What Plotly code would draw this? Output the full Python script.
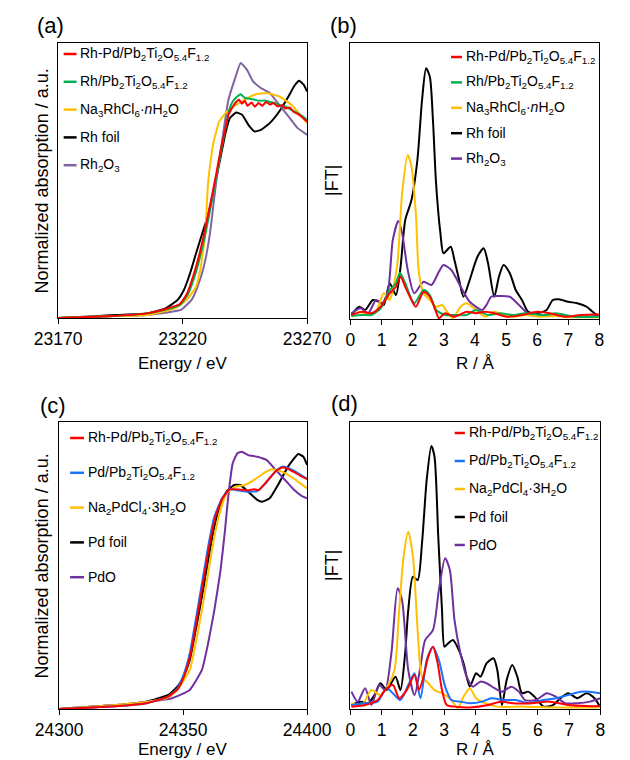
import plotly.graph_objects as go

W, H = 630, 760
FONT = "Arial, 'Liberation Sans', sans-serif"

# ---------------- data: (a) Rh K-edge XANES ----------------
a_rhpd_E = [23170, 23190, 23205, 23213, 23219, 23221.7, 23224.2, 23226.7, 23229.1, 23231.6, 23233.5,
            23235.3, 23237.2, 23238.4, 23239.5, 23240.5, 23241.5, 23242.7, 23243.8, 23245, 23246,
            23247.7, 23249, 23250.5, 23252, 23253.5, 23255, 23256.5, 23258, 23260, 23261.2, 23263,
            23264.5, 23266.2, 23268, 23270]
a_rhpd_v = [0, 0.008, 0.02, 0.04, 0.065, 0.11, 0.19, 0.29, 0.41, 0.55, 0.66, 0.77, 0.87, 0.93, 0.955,
            0.975, 0.99, 1.0, 0.982, 0.995, 0.972, 0.987, 0.968, 0.985, 0.972, 0.99, 0.978, 0.985,
            0.97, 0.975, 0.96, 0.965, 0.945, 0.935, 0.92, 0.9]
a_rh_E = [23170, 23190, 23205, 23213, 23219, 23222, 23224.5, 23227, 23229.4, 23231.8, 23233.6, 23235.4,
          23237.2, 23238.4, 23240, 23241.5, 23243.3, 23245, 23247, 23248.9, 23251, 23253, 23255,
          23257, 23259, 23261.2, 23263.5, 23266.2, 23268, 23270]
a_rh_v = [0, 0.008, 0.02, 0.038, 0.06, 0.105, 0.18, 0.28, 0.40, 0.54, 0.65, 0.76, 0.87, 0.94, 0.99,
          1.01, 1.025, 1.008, 1.005, 1.0, 0.995, 0.997, 0.99, 0.985, 0.975, 0.969, 0.955, 0.939,
          0.925, 0.908]
a_na_E = [23170, 23190, 23205.7, 23216.8, 23221.7, 23225.4, 23227.3, 23229.1, 23229.8, 23230.4,
          23232.2, 23234.7, 23237.8, 23242.7, 23248.9, 23253.8, 23258.8, 23263.7, 23270]
a_na_v = [0, 0.008, 0.014, 0.044, 0.083, 0.144, 0.235, 0.388, 0.541, 0.641, 0.794, 0.9, 0.946,
          0.985, 1.023, 1.031, 1.015, 0.977, 0.893]
a_foil_E = [23170, 23185, 23193.3, 23205.7, 23213.1, 23218, 23220.5, 23223, 23225.4, 23227.9,
            23230.4, 23232.8, 23235.3, 23237.2, 23239, 23241.5, 23243.9, 23246.4, 23248.9,
            23251.4, 23255, 23258.8, 23262.5, 23264.9, 23266.8, 23268.6, 23270]
a_foil_v = [0, 0.008, 0.014, 0.021, 0.044, 0.083, 0.128, 0.205, 0.297, 0.388, 0.48, 0.602, 0.74,
            0.847, 0.916, 0.942, 0.931, 0.885, 0.855, 0.862, 0.893, 0.946, 1.015, 1.064, 1.087,
            1.069, 1.038]
a_ox_E = [23170, 23190, 23205.7, 23215.6, 23219.3, 23223.6, 23226, 23228.5, 23231, 23232.6, 23234.3,
          23236.3, 23238.4, 23240.9, 23243.3, 23245.8, 23248.3, 23251.4, 23255, 23258.8, 23262.5,
          23266.2, 23270]
a_ox_v = [0, 0.008, 0.014, 0.029, 0.037, 0.083, 0.144, 0.235, 0.388, 0.541, 0.694, 0.847, 1.0,
          1.092, 1.168, 1.138, 1.084, 1.054, 1.031, 0.977, 0.924, 0.87, 0.839]

# ---------------- data: (b) Rh K-edge FT-EXAFS ----------------
b_rhpd_R = [0.03, 0.38, 0.67, 0.97, 1.26, 1.46, 1.61, 1.76, 1.96, 2.1, 2.35, 2.55, 2.75, 2.84, 3.04,
            3.34, 3.73, 4.03, 4.33, 4.62, 5.02, 5.51, 6.0, 6.4, 6.89, 7.39, 7.98]
b_rhpd_v = [0.016, 0.029, 0.023, 0.049, 0.103, 0.129, 0.169, 0.129, 0.076, 0.049, 0.109, 0.089,
            0.029, 0.003, 0.023, 0.009, 0.029, 0.023, 0.029, 0.023, 0.009, 0.016, 0.029, 0.023,
            0.009, 0.016, 0.019]
b_rh_R = [0.03, 0.38, 0.67, 0.97, 1.26, 1.46, 1.59, 1.76, 2.05, 2.35, 2.55, 2.75, 3.04, 3.34, 3.73,
          4.03, 4.42, 4.82, 5.21, 5.61, 6.2, 6.6, 7.19, 7.98]
b_rh_v = [0.012, 0.016, 0.016, 0.043, 0.116, 0.143, 0.185, 0.143, 0.063, 0.116, 0.096, 0.036,
          0.016, 0.016, 0.016, 0.036, 0.016, 0.023, 0.016, 0.023, 0.016, 0.023, 0.009, 0.009]
b_na_R = [0.03, 0.28, 0.57, 0.82, 1.07, 1.26, 1.36, 1.51, 1.66, 1.84, 1.96, 2.1, 2.2, 2.35, 2.55,
          2.75, 2.94, 3.14, 3.29, 3.54, 3.73, 4.03, 4.33, 4.62, 4.92, 5.21, 5.61, 6.1, 6.6, 7.09, 7.98]
b_na_v = [0.009, 0.029, 0.016, 0.029, 0.103, 0.076, 0.116, 0.223, 0.503, 0.656, 0.609, 0.423,
          0.183, 0.103, 0.076, 0.049, 0.056, 0.023, 0.003, 0.049, 0.063, 0.036, 0.009, 0.029,
          0.016, 0.009, 0.016, 0.009, 0.012, 0.007, 0.007]
b_foil_R = [0.03, 0.28, 0.47, 0.72, 0.92, 1.07, 1.26, 1.46, 1.61, 1.76, 1.96, 2.15, 2.3, 2.43, 2.55,
            2.65, 2.75, 2.89, 2.99, 3.22, 3.34, 3.49, 3.63, 3.83, 4.08, 4.28, 4.42, 4.62, 4.77,
            4.92, 5.12, 5.31, 5.51, 5.71, 6.0, 6.3, 6.5, 6.7, 6.99, 7.29, 7.59, 7.78, 7.98]
b_foil_v = [0.016, 0.049, 0.036, 0.076, 0.069, 0.056, 0.143, 0.096, 0.209, 0.396, 0.476, 0.636,
            0.876, 1.003, 0.969, 0.796, 0.543, 0.343, 0.263, 0.289, 0.236, 0.156, 0.089, 0.156,
            0.249, 0.283, 0.223, 0.089, 0.169, 0.216, 0.183, 0.116, 0.076, 0.029, 0.023, 0.036,
            0.076, 0.079, 0.069, 0.063, 0.049, 0.029, 0.009]
b_ox_R = [0.03, 0.33, 0.57, 0.82, 1.02, 1.21, 1.36, 1.54, 1.66, 1.84, 2.05, 2.35, 2.6, 2.84, 2.99,
          3.24, 3.54, 3.83, 4.23, 4.37, 4.52, 4.72, 5.12, 5.41, 5.71, 6.2, 6.8, 7.39, 7.98]
b_ox_v = [0.023, 0.043, 0.023, 0.076, 0.063, 0.116, 0.316, 0.392, 0.343, 0.196, 0.103, 0.149,
          0.136, 0.189, 0.216, 0.196, 0.129, 0.069, 0.036, 0.056, 0.089, 0.092, 0.089, 0.056,
          0.023, 0.016, 0.012, 0.009, 0.012]

# ---------------- data: (c) Pd K-edge XANES ----------------
c_rhpd_E = [24300, 24322.9, 24335.3, 24344, 24348.1, 24350.6, 24353.1, 24355.5, 24358, 24360.5,
            24363, 24365.9, 24368.8, 24372.5, 24376.2, 24378.5, 24380.5, 24383.6, 24387.4, 24389.9,
            24392, 24394.8, 24397.9, 24400]
c_rhpd_v = [0, 0.012, 0.025, 0.054, 0.09, 0.148, 0.242, 0.387, 0.546, 0.706, 0.836, 0.916, 0.955,
            0.955, 0.95, 0.956, 0.952, 0.988, 1.035, 1.05, 1.046, 1.03, 1.01, 1.0]
c_pd_E = [24300, 24322.9, 24335.3, 24344, 24347.7, 24350.2, 24352.7, 24355.1, 24357.6, 24360.1,
          24362.6, 24365.7, 24368.8, 24372.5, 24376.2, 24379.9, 24383.6, 24387.4, 24389.9, 24392,
          24394.8, 24397.9, 24400]
c_pd_v = [0, 0.012, 0.025, 0.054, 0.09, 0.148, 0.242, 0.387, 0.546, 0.706, 0.836, 0.916, 0.955,
          0.950, 0.945, 0.948, 0.985, 1.035, 1.054, 1.05, 1.035, 1.015, 1.0]
c_na_E = [24300, 24322.9, 24335.3, 24344, 24347.7, 24352.7, 24355.1, 24357.6, 24360.1, 24362.6,
          24365.1, 24367.5, 24371.2, 24374.9, 24378.6, 24382.4, 24386.1, 24389.8, 24393.6, 24397.3,
          24400]
c_na_v = [0, 0.017, 0.03, 0.05, 0.083, 0.17, 0.286, 0.43, 0.59, 0.749, 0.865, 0.938, 0.967, 0.974,
          0.996, 1.025, 1.042, 1.032, 1.01, 0.981, 0.959]
c_foil_E = [24300, 24322.9, 24335.3, 24344, 24347.7, 24350.2, 24352.7, 24355.1, 24357.6, 24360.1,
            24362.6, 24365.1, 24367.5, 24370.6, 24373.1, 24376.2, 24379.9, 24381.8, 24384.9,
            24388.6, 24392.3, 24396.4, 24398.5, 24400]
c_foil_v = [0, 0.017, 0.032, 0.061, 0.097, 0.141, 0.213, 0.343, 0.488, 0.648, 0.793, 0.894, 0.945,
            0.974, 0.974, 0.945, 0.909, 0.901, 0.916, 0.981, 1.054, 1.109, 1.097, 1.061]
c_ox_E = [24300, 24322.9, 24335.3, 24345.2, 24352.7, 24357.6, 24360.1, 24362.6, 24365.1, 24366.9,
          24368.2, 24370, 24371.9, 24373.7, 24376.2, 24379.9, 24383.6, 24387.4, 24391.1, 24394.8,
          24397.9, 24400]
c_ox_v = [0, 0.017, 0.032, 0.046, 0.083, 0.17, 0.286, 0.43, 0.604, 0.778, 0.923, 1.068, 1.112,
          1.119, 1.104, 1.097, 1.083, 1.039, 0.996, 0.952, 0.926, 0.916]

# ---------------- data: (d) Pd K-edge FT-EXAFS ----------------
d_rhpd_R = [0.03, 0.47, 0.87, 1.11, 1.36, 1.56, 1.8, 2.05, 2.19, 2.34, 2.49, 2.64, 2.79, 2.93, 3.08,
            3.33, 3.82, 4.41, 4.8, 5.2, 5.79, 6.38, 6.97, 7.56, 8.0]
d_rhpd_v = [0.009, 0.015, 0.034, 0.072, 0.091, 0.041, 0.072, 0.129, 0.072, 0.123, 0.199, 0.237,
            0.174, 0.072, 0.015, 0.009, 0.006, 0.015, 0.028, 0.022, 0.022, 0.028, 0.015, 0.011, 0.011]
d_pd_R = [0.03, 0.47, 0.87, 1.16, 1.41, 1.6, 1.85, 2.05, 2.24, 2.44, 2.64, 2.83, 3.03, 3.23, 3.52,
          3.82, 4.21, 4.51, 4.9, 5.3, 5.69, 6.18, 6.57, 6.97, 7.36, 7.66, 8.0]
d_pd_v = [0.015, 0.022, 0.028, 0.079, 0.053, 0.034, 0.091, 0.136, 0.041, 0.186, 0.237, 0.186,
          0.085, 0.034, 0.028, 0.022, 0.028, 0.041, 0.034, 0.034, 0.022, 0.034, 0.041, 0.053,
          0.066, 0.066, 0.06]
d_na_R = [0.03, 0.37, 0.67, 0.96, 1.21, 1.41, 1.56, 1.7, 1.85, 2.0, 2.15, 2.29, 2.49, 2.69, 2.93,
          3.23, 3.43, 3.62, 3.82, 4.02, 4.31, 4.7, 5.59, 6.57, 8.0]
d_na_v = [0.022, 0.015, 0.072, 0.053, 0.091, 0.148, 0.376, 0.579, 0.674, 0.579, 0.3, 0.123, 0.098,
          0.072, 0.06, 0.034, 0.003, 0.047, 0.079, 0.041, 0.022, 0.009, 0.009, 0.006, 0.006]
d_foil_R = [0.03, 0.32, 0.57, 0.77, 0.96, 1.16, 1.44, 1.6, 1.75, 1.85, 2.0, 2.15, 2.29, 2.44, 2.59,
            2.69, 2.81, 2.93, 3.01, 3.13, 3.28, 3.47, 3.62, 3.82, 4.02, 4.16, 4.36, 4.58, 4.7,
            4.85, 5.0, 5.18, 5.34, 5.49, 5.69, 5.89, 6.18, 6.48, 6.72, 6.97, 7.26, 7.56, 7.81, 8.0]
d_foil_v = [0.015, 0.028, 0.022, 0.053, 0.098, 0.072, 0.123, 0.072, 0.212, 0.376, 0.503, 0.49,
            0.63, 0.871, 1.0, 0.959, 0.655, 0.376, 0.237, 0.25, 0.262, 0.224, 0.174, 0.085, 0.136,
            0.123, 0.174, 0.193, 0.148, 0.015, 0.11, 0.167, 0.123, 0.06, 0.066, 0.047, 0.009,
            0.015, 0.041, 0.06, 0.041, 0.06, 0.041, 0.006]
d_ox_R = [0.03, 0.23, 0.47, 0.67, 0.92, 1.11, 1.31, 1.51, 1.65, 1.85, 2.05, 2.24, 2.39, 2.64, 2.83,
          3.03, 3.18, 3.33, 3.52, 3.72, 3.92, 4.16, 4.36, 4.61, 4.85, 5.15, 5.39, 5.59, 5.94, 6.28,
          6.57, 6.87, 7.26, 7.66, 8.0]
d_ox_v = [0.066, 0.028, 0.079, 0.015, 0.091, 0.072, 0.212, 0.459, 0.414, 0.148, 0.053, 0.161,
          0.262, 0.3, 0.452, 0.573, 0.529, 0.338, 0.212, 0.123, 0.085, 0.104, 0.098, 0.079, 0.066,
          0.085, 0.066, 0.034, 0.034, 0.06, 0.047, 0.022, 0.022, 0.028, 0.041]

# ---------------- labels ----------------
rh_names = ["Rh-Pd/Pb<sub>2</sub>Ti<sub>2</sub>O<sub>5.4</sub>F<sub>1.2</sub>",
            "Rh/Pb<sub>2</sub>Ti<sub>2</sub>O<sub>5.4</sub>F<sub>1.2</sub>",
            "Na<sub>3</sub>RhCl<sub>6</sub>·<i>n</i>H<sub>2</sub>O",
            "Rh foil",
            "Rh<sub>2</sub>O<sub>3</sub>"]
pd_names = ["Rh-Pd/Pb<sub>2</sub>Ti<sub>2</sub>O<sub>5.4</sub>F<sub>1.2</sub>",
            "Pd/Pb<sub>2</sub>Ti<sub>2</sub>O<sub>5.4</sub>F<sub>1.2</sub>",
            "Na<sub>2</sub>PdCl<sub>4</sub>·3H<sub>2</sub>O",
            "Pd foil",
            "PdO"]
xanes_rh_ticks = [23170, 23220, 23270]
xanes_pd_ticks = [24300, 24350, 24400]
r_ticks = [0, 1, 2, 3, 4, 5, 6, 7, 8]

RED, GREEN, YEL, BLK = "#ff0000", "#00b050", "#ffc000", "#000000"
PUR_A, PUR = "#8064a2", "#7030a0"
BLUE = "#1a73ff"
rh_colors_a = [RED, GREEN, YEL, BLK, PUR_A]
rh_colors_b = [RED, GREEN, YEL, BLK, PUR]
pd_colors = [RED, BLUE, YEL, BLK, PUR]

panels = [
    ("", [a_rhpd_E, a_rh_E, a_na_E, a_foil_E, a_ox_E], [a_rhpd_v, a_rh_v, a_na_v, a_foil_v, a_ox_v],
     rh_colors_a, rh_names, [23170, 23270], [0, 1.26], xanes_rh_ticks, (37, 307, 43, 318), 0.4),
    ("2", [b_rhpd_R, b_rh_R, b_na_R, b_foil_R, b_ox_R], [b_rhpd_v, b_rh_v, b_na_v, b_foil_v, b_ox_v],
     rh_colors_b, rh_names, [0, 8], [0, 1.104], r_ticks, (354, 624, 43, 319), 0.7),
    ("3", [c_rhpd_E, c_pd_E, c_na_E, c_foil_E, c_ox_E], [c_rhpd_v, c_pd_v, c_na_v, c_foil_v, c_ox_v],
     pd_colors, pd_names, [24300, 24400], [0, 1.248], xanes_pd_ticks, (38, 307, 422, 709), 0.4),
    ("4", [d_rhpd_R, d_pd_R, d_na_R, d_foil_R, d_ox_R], [d_rhpd_v, d_pd_v, d_na_v, d_foil_v, d_ox_v],
     pd_colors, pd_names, [0, 8], [0, 1.091], r_ticks, (354, 625, 422, 709), 0.7),
]

fig = go.Figure()
layout = dict(width=W, height=H, margin=dict(l=0, r=0, t=0, b=0),
              paper_bgcolor="white", plot_bgcolor="white", showlegend=False,
              font=dict(family=FONT, color="black"))

def px2x(p):
    return p / W

def px2y(p):
    return 1 - p / H

draw_order = [3, 4, 2, 1, 0]
for key, xs, ys, cols, names, xr, yr, ticks, box, smooth in panels:
    l, r, t, b = box
    for i in draw_order:
        fig.add_trace(go.Scatter(x=xs[i], y=ys[i], mode="lines",
                                 line=dict(color=cols[i], width=2, shape="spline", smoothing=smooth),
                                 xaxis="x" + key, yaxis="y" + key, showlegend=False,
                                 hoverinfo="skip"))
    layout["xaxis" + key] = dict(domain=[px2x(l), px2x(r)], range=xr, anchor="y" + key,
                                 showline=True, mirror=True, linecolor="black", linewidth=1.2,
                                 ticks="outside", ticklen=5, tickwidth=1, tickcolor="black",
                                 tickvals=ticks, ticktext=[str(v) for v in ticks],
                                 tickfont=dict(size=17.5, family=FONT), showgrid=False,
                                 zeroline=False)
    layout["yaxis" + key] = dict(domain=[px2y(b), px2y(t)], range=yr, anchor="x" + key,
                                 showline=True, mirror=True, linecolor="black", linewidth=1.2,
                                 showticklabels=False, ticks="", showgrid=False, zeroline=False)

annotations = []
shapes = []

def text(x, y, s, size, angle=0, xanchor="center"):
    annotations.append(dict(x=px2x(x), y=px2y(y), xref="paper", yref="paper", text=s,
                            showarrow=False, textangle=angle, xanchor=xanchor, yanchor="middle",
                            font=dict(size=size, family=FONT, color="black")))

# panel letters
text(29, 25, "(a)", 22)
text(346, 25, "(b)", 22)
text(31, 405, "(c)", 22)
text(347, 403, "(d)", 22)
# axis titles
text(20, 181, "Normalized absorption / a.u.", 18, -90)
text(20, 566, "Normalized absorption / a.u.", 18, -90)
text(334, 181, "|FT|", 18, -90)
text(334, 566, "|FT|", 18, -90)
text(172, 363, "Energy / eV", 17)
text(489, 363, "R / Å", 17)
text(172, 749, "Energy / eV", 17)
text(489, 749, "R / Å", 17)

# legends (line sample + label)
legend_specs = [
    (rh_names, rh_colors_a, 43, 57, 59, 54, 27.8),
    (rh_names, rh_colors_b, 463, 475, 477, 57, 25.4),
    (pd_names, pd_colors, 50, 65, 67, 438, 34.8),
    (pd_names, pd_colors, 467, 478, 480, 433, 28.0),
]
for names, cols, x0, x1, xt, y0, dy in legend_specs:
    for k, (nm, c) in enumerate(zip(names, cols)):
        yy = y0 + k * dy
        shapes.append(dict(type="line", xref="paper", yref="paper", x0=px2x(x0), x1=px2x(x1),
                           y0=px2y(yy), y1=px2y(yy), line=dict(color=c, width=2.5)))
        annotations.append(dict(x=px2x(xt), y=px2y(yy), xref="paper", yref="paper", text=nm,
                                showarrow=False, xanchor="left", yanchor="middle",
                                font=dict(size=14, family=FONT, color="black")))

layout["annotations"] = annotations
layout["shapes"] = shapes
fig.update_layout(**layout)
fig.write_html("out.html")
